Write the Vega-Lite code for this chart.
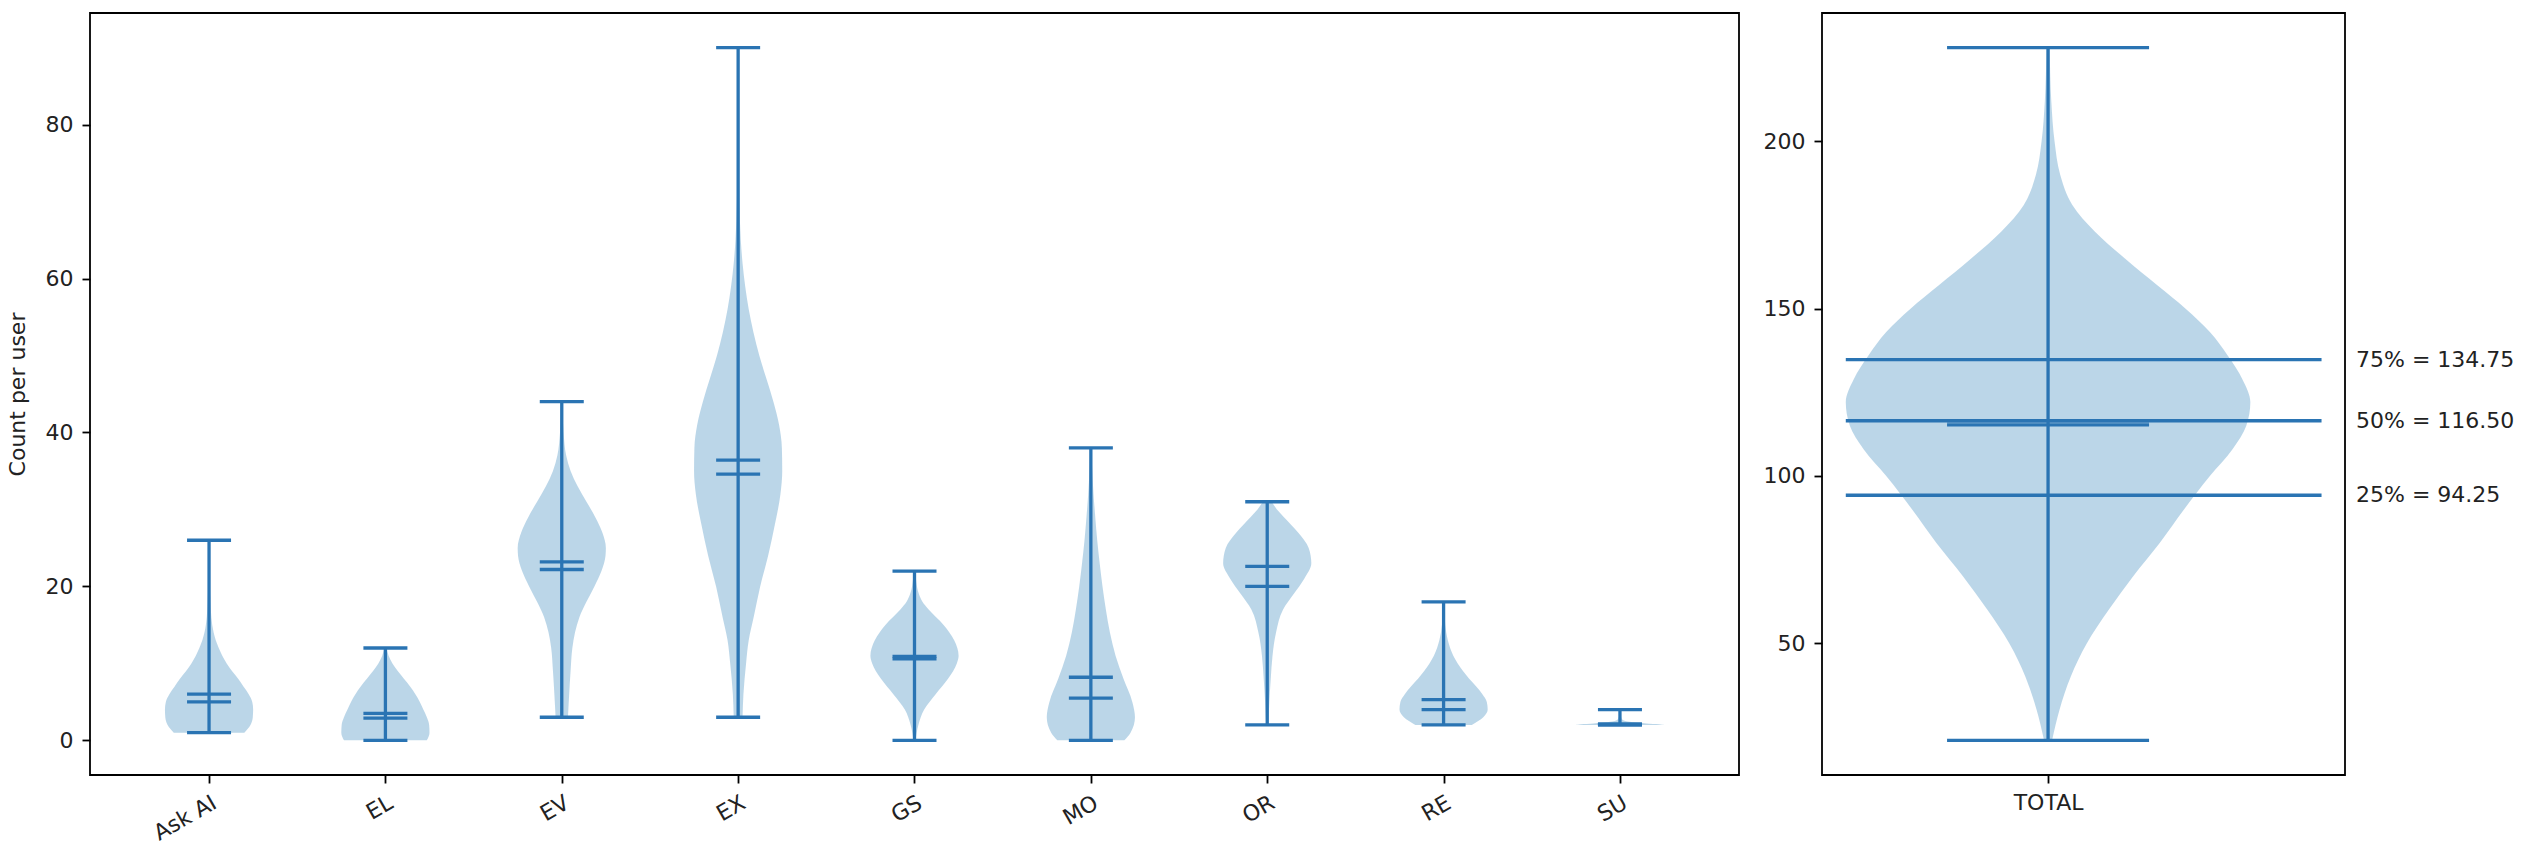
{
  "$schema": "https://vega.github.io/schema/vega-lite/v6.json",
  "background": "white",
  "padding": {"left": 5, "top": 12, "right": 5, "bottom": 5},
  "config": {
    "font": "DejaVu Sans",
    "view": {"stroke": "#000", "strokeWidth": 1.8},
    "axis": {"grid": false, "domain": false, "tickColor": "#000", "tickWidth": 1.8, "tickSize": 8, "labelPadding": 9, "labelFontSize": 22, "labelColor": "#222", "titleFontSize": 22, "titleFontWeight": "normal", "titleColor": "#222"},
    "concat": {"spacing": 22}
  },
  "datasets": {
    "violin": [
      {"c":"Ask AI","v":1,"lo":0.8,"hi":1.2},
      {"c":"Ask AI","v":2,"lo":0.765,"hi":1.235},
      {"c":"Ask AI","v":3,"lo":0.752,"hi":1.248},
      {"c":"Ask AI","v":4,"lo":0.75,"hi":1.25},
      {"c":"Ask AI","v":5,"lo":0.755,"hi":1.245},
      {"c":"Ask AI","v":6,"lo":0.775,"hi":1.225},
      {"c":"Ask AI","v":7,"lo":0.805,"hi":1.195},
      {"c":"Ask AI","v":8,"lo":0.835,"hi":1.165},
      {"c":"Ask AI","v":9,"lo":0.87,"hi":1.13},
      {"c":"Ask AI","v":10,"lo":0.9,"hi":1.1},
      {"c":"Ask AI","v":11,"lo":0.925,"hi":1.075},
      {"c":"Ask AI","v":12,"lo":0.945,"hi":1.055},
      {"c":"Ask AI","v":13,"lo":0.962,"hi":1.038},
      {"c":"Ask AI","v":14,"lo":0.974,"hi":1.026},
      {"c":"Ask AI","v":16,"lo":0.987,"hi":1.013},
      {"c":"Ask AI","v":18,"lo":0.992,"hi":1.008},
      {"c":"Ask AI","v":20,"lo":0.995,"hi":1.005},
      {"c":"Ask AI","v":23,"lo":0.997,"hi":1.003},
      {"c":"Ask AI","v":26,"lo":0.998,"hi":1.002},
      {"c":"EL","v":0,"lo":1.765,"hi":2.235},
      {"c":"EL","v":1,"lo":1.75,"hi":2.25},
      {"c":"EL","v":2,"lo":1.752,"hi":2.248},
      {"c":"EL","v":3,"lo":1.765,"hi":2.235},
      {"c":"EL","v":4,"lo":1.785,"hi":2.215},
      {"c":"EL","v":5,"lo":1.805,"hi":2.195},
      {"c":"EL","v":6,"lo":1.83,"hi":2.17},
      {"c":"EL","v":7,"lo":1.86,"hi":2.14},
      {"c":"EL","v":8,"lo":1.895,"hi":2.105},
      {"c":"EL","v":9,"lo":1.93,"hi":2.07},
      {"c":"EL","v":10,"lo":1.96,"hi":2.04},
      {"c":"EL","v":11,"lo":1.982,"hi":2.018},
      {"c":"EL","v":12,"lo":1.993,"hi":2.007},
      {"c":"EV","v":3,"lo":2.965,"hi":3.035},
      {"c":"EV","v":6,"lo":2.958,"hi":3.042},
      {"c":"EV","v":9,"lo":2.95,"hi":3.05},
      {"c":"EV","v":12,"lo":2.94,"hi":3.06},
      {"c":"EV","v":14,"lo":2.925,"hi":3.075},
      {"c":"EV","v":16,"lo":2.9,"hi":3.1},
      {"c":"EV","v":18,"lo":2.86,"hi":3.14},
      {"c":"EV","v":20,"lo":2.815,"hi":3.185},
      {"c":"EV","v":22,"lo":2.775,"hi":3.225},
      {"c":"EV","v":24,"lo":2.752,"hi":3.248},
      {"c":"EV","v":25,"lo":2.75,"hi":3.25},
      {"c":"EV","v":27,"lo":2.77,"hi":3.23},
      {"c":"EV","v":29,"lo":2.81,"hi":3.19},
      {"c":"EV","v":31,"lo":2.86,"hi":3.14},
      {"c":"EV","v":33,"lo":2.91,"hi":3.09},
      {"c":"EV","v":35,"lo":2.95,"hi":3.05},
      {"c":"EV","v":37,"lo":2.975,"hi":3.025},
      {"c":"EV","v":40,"lo":2.99,"hi":3.01},
      {"c":"EV","v":44,"lo":2.997,"hi":3.003},
      {"c":"EX","v":3,"lo":3.975,"hi":4.025},
      {"c":"EX","v":6,"lo":3.97,"hi":4.03},
      {"c":"EX","v":10,"lo":3.955,"hi":4.045},
      {"c":"EX","v":13,"lo":3.94,"hi":4.06},
      {"c":"EX","v":16,"lo":3.912,"hi":4.088},
      {"c":"EX","v":20,"lo":3.875,"hi":4.125},
      {"c":"EX","v":24,"lo":3.83,"hi":4.17},
      {"c":"EX","v":28,"lo":3.792,"hi":4.208},
      {"c":"EX","v":32,"lo":3.76,"hi":4.24},
      {"c":"EX","v":35,"lo":3.75,"hi":4.25},
      {"c":"EX","v":38,"lo":3.752,"hi":4.248},
      {"c":"EX","v":41,"lo":3.768,"hi":4.232},
      {"c":"EX","v":44,"lo":3.8,"hi":4.2},
      {"c":"EX","v":47,"lo":3.84,"hi":4.16},
      {"c":"EX","v":50,"lo":3.88,"hi":4.12},
      {"c":"EX","v":53,"lo":3.913,"hi":4.087},
      {"c":"EX","v":56,"lo":3.94,"hi":4.06},
      {"c":"EX","v":59,"lo":3.96,"hi":4.04},
      {"c":"EX","v":62,"lo":3.975,"hi":4.025},
      {"c":"EX","v":65,"lo":3.985,"hi":4.015},
      {"c":"EX","v":70,"lo":3.993,"hi":4.007},
      {"c":"EX","v":78,"lo":3.997,"hi":4.003},
      {"c":"EX","v":90,"lo":3.999,"hi":4.001},
      {"c":"GS","v":0,"lo":4.994,"hi":5.006},
      {"c":"GS","v":2,"lo":4.978,"hi":5.022},
      {"c":"GS","v":4,"lo":4.945,"hi":5.055},
      {"c":"GS","v":6,"lo":4.88,"hi":5.12},
      {"c":"GS","v":8,"lo":4.81,"hi":5.19},
      {"c":"GS","v":10,"lo":4.76,"hi":5.24},
      {"c":"GS","v":11,"lo":4.75,"hi":5.25},
      {"c":"GS","v":13,"lo":4.775,"hi":5.225},
      {"c":"GS","v":15,"lo":4.835,"hi":5.165},
      {"c":"GS","v":17,"lo":4.92,"hi":5.08},
      {"c":"GS","v":18,"lo":4.955,"hi":5.045},
      {"c":"GS","v":19,"lo":4.975,"hi":5.025},
      {"c":"GS","v":21,"lo":4.992,"hi":5.008},
      {"c":"GS","v":22,"lo":4.996,"hi":5.004},
      {"c":"MO","v":0,"lo":5.81,"hi":6.19},
      {"c":"MO","v":1,"lo":5.775,"hi":6.225},
      {"c":"MO","v":3,"lo":5.75,"hi":6.25},
      {"c":"MO","v":5,"lo":5.765,"hi":6.235},
      {"c":"MO","v":8,"lo":5.815,"hi":6.185},
      {"c":"MO","v":11,"lo":5.86,"hi":6.14},
      {"c":"MO","v":14,"lo":5.892,"hi":6.108},
      {"c":"MO","v":17,"lo":5.915,"hi":6.085},
      {"c":"MO","v":20,"lo":5.934,"hi":6.066},
      {"c":"MO","v":23,"lo":5.95,"hi":6.05},
      {"c":"MO","v":26,"lo":5.964,"hi":6.036},
      {"c":"MO","v":29,"lo":5.975,"hi":6.025},
      {"c":"MO","v":32,"lo":5.985,"hi":6.015},
      {"c":"MO","v":35,"lo":5.992,"hi":6.008},
      {"c":"MO","v":38,"lo":5.997,"hi":6.003},
      {"c":"OR","v":2,"lo":6.994,"hi":7.006},
      {"c":"OR","v":5,"lo":6.988,"hi":7.012},
      {"c":"OR","v":8,"lo":6.98,"hi":7.02},
      {"c":"OR","v":11,"lo":6.97,"hi":7.03},
      {"c":"OR","v":14,"lo":6.95,"hi":7.05},
      {"c":"OR","v":17,"lo":6.91,"hi":7.09},
      {"c":"OR","v":19,"lo":6.85,"hi":7.15},
      {"c":"OR","v":21,"lo":6.79,"hi":7.21},
      {"c":"OR","v":23,"lo":6.75,"hi":7.25},
      {"c":"OR","v":25,"lo":6.765,"hi":7.235},
      {"c":"OR","v":27,"lo":6.825,"hi":7.175},
      {"c":"OR","v":29,"lo":6.905,"hi":7.095},
      {"c":"OR","v":30,"lo":6.945,"hi":7.055},
      {"c":"OR","v":31,"lo":6.975,"hi":7.025},
      {"c":"RE","v":2,"lo":7.84,"hi":8.16},
      {"c":"RE","v":3,"lo":7.775,"hi":8.225},
      {"c":"RE","v":4,"lo":7.75,"hi":8.25},
      {"c":"RE","v":5,"lo":7.755,"hi":8.245},
      {"c":"RE","v":6,"lo":7.78,"hi":8.22},
      {"c":"RE","v":7,"lo":7.815,"hi":8.185},
      {"c":"RE","v":8,"lo":7.855,"hi":8.145},
      {"c":"RE","v":9,"lo":7.89,"hi":8.11},
      {"c":"RE","v":10,"lo":7.92,"hi":8.08},
      {"c":"RE","v":11,"lo":7.945,"hi":8.055},
      {"c":"RE","v":12,"lo":7.963,"hi":8.037},
      {"c":"RE","v":13,"lo":7.976,"hi":8.024},
      {"c":"RE","v":14,"lo":7.985,"hi":8.015},
      {"c":"RE","v":16,"lo":7.994,"hi":8.006},
      {"c":"RE","v":18,"lo":7.998,"hi":8.002},
      {"c":"SU","v":2,"lo":8.75,"hi":9.25},
      {"c":"SU","v":2.1,"lo":8.78,"hi":9.22},
      {"c":"SU","v":2.2,"lo":8.85,"hi":9.15},
      {"c":"SU","v":2.35,"lo":8.93,"hi":9.07},
      {"c":"SU","v":2.5,"lo":8.97,"hi":9.03},
      {"c":"SU","v":2.8,"lo":8.99,"hi":9.01},
      {"c":"SU","v":3.2,"lo":8.995,"hi":9.005},
      {"c":"SU","v":4,"lo":8.998,"hi":9.002}
    ],
    "stats": [
      {"c":"Ask AI","pos":1,"min":1,"max":26,"mean":6.0,"median":5.0},
      {"c":"EL","pos":2,"min":0,"max":12,"mean":3.5,"median":2.9},
      {"c":"EV","pos":3,"min":3,"max":44,"mean":23.2,"median":22.2},
      {"c":"EX","pos":4,"min":3,"max":90,"mean":36.4,"median":34.6},
      {"c":"GS","pos":5,"min":0,"max":22,"mean":10.9,"median":10.6},
      {"c":"MO","pos":6,"min":0,"max":38,"mean":8.2,"median":5.5},
      {"c":"OR","pos":7,"min":2,"max":31,"mean":22.6,"median":20.0},
      {"c":"RE","pos":8,"min":2,"max":18,"mean":5.3,"median":4.0},
      {"c":"SU","pos":9,"min":2,"max":4,"mean":2.15,"median":2.0}
    ],
    "total_violin": [
      {"c":"TOTAL","v":21,"lo":0.995,"hi":1.005},
      {"c":"TOTAL","v":30,"lo":0.986,"hi":1.014},
      {"c":"TOTAL","v":40,"lo":0.972,"hi":1.028},
      {"c":"TOTAL","v":50,"lo":0.952,"hi":1.048},
      {"c":"TOTAL","v":60,"lo":0.925,"hi":1.075},
      {"c":"TOTAL","v":70,"lo":0.895,"hi":1.105},
      {"c":"TOTAL","v":80,"lo":0.862,"hi":1.138},
      {"c":"TOTAL","v":90,"lo":0.832,"hi":1.168},
      {"c":"TOTAL","v":100,"lo":0.8,"hi":1.2},
      {"c":"TOTAL","v":108,"lo":0.772,"hi":1.228},
      {"c":"TOTAL","v":115,"lo":0.755,"hi":1.245},
      {"c":"TOTAL","v":122,"lo":0.75,"hi":1.25},
      {"c":"TOTAL","v":129,"lo":0.76,"hi":1.24},
      {"c":"TOTAL","v":136,"lo":0.778,"hi":1.222},
      {"c":"TOTAL","v":143,"lo":0.8,"hi":1.2},
      {"c":"TOTAL","v":150,"lo":0.83,"hi":1.17},
      {"c":"TOTAL","v":157,"lo":0.865,"hi":1.135},
      {"c":"TOTAL","v":165,"lo":0.905,"hi":1.095},
      {"c":"TOTAL","v":173,"lo":0.942,"hi":1.058},
      {"c":"TOTAL","v":181,"lo":0.97,"hi":1.03},
      {"c":"TOTAL","v":190,"lo":0.985,"hi":1.015},
      {"c":"TOTAL","v":200,"lo":0.992,"hi":1.008},
      {"c":"TOTAL","v":212,"lo":0.996,"hi":1.004},
      {"c":"TOTAL","v":228,"lo":0.998,"hi":1.002}
    ],
    "total_stats": [
      {"c":"TOTAL","pos":1,"min":21,"max":228,"mean":115.3,"median":116.5}
    ],
    "quant": [
      {"q":"75%","value":134.75,"label":"75% = 134.75"},
      {"q":"50%","value":116.5,"label":"50% = 116.50"},
      {"q":"25%","value":94.25,"label":"25% = 94.25"}
    ]
  },
  "hconcat": [
    {
      "width": 1649,
      "height": 762,
      "layer": [
        {
          "data": {"name": "violin"},
          "mark": {"type": "area", "orient": "horizontal", "interpolate": "monotone", "color": "#1f77b4", "opacity": 0.3},
          "encoding": {
            "y": {"field": "v", "type": "quantitative", "scale": {"domain": [-4.5, 94.5], "nice": false, "zero": false},
                  "axis": {"values": [0, 20, 40, 60, 80], "title": "Count per user", "titlePadding": 16}},
            "x": {"field": "lo", "type": "quantitative", "stack": null, "scale": {"domain": [0.325, 9.675], "nice": false, "zero": false},
                  "axis": {"values": [1,2,3,4,5,6,7,8,9], "labelExpr": "['Ask AI','EL','EV','EX','GS','MO','OR','RE','SU'][datum.value-1]", "labelAngle": -30, "labelAlign": "right", "labelBaseline": "top", "title": null}},
            "x2": {"field": "hi"},
            "detail": {"field": "c"}
          }
        },
        {
          "data": {"name": "stats"},
          "mark": {"type": "rule", "color": "#2a74b3", "strokeWidth": 3.3},
          "encoding": {
            "x": {"field": "pos", "type": "quantitative"},
            "y": {"field": "min", "type": "quantitative"},
            "y2": {"field": "max"}
          }
        },
        {
          "data": {"name": "stats"},
          "transform": [{"fold": ["min", "max", "mean", "median"], "as": ["stat", "val"]}],
          "mark": {"type": "tick", "orient": "horizontal", "color": "#2a74b3", "size": 44, "thickness": 3.3, "opacity": 1},
          "encoding": {
            "x": {"field": "pos", "type": "quantitative"},
            "y": {"field": "val", "type": "quantitative"}
          }
        }
      ]
    },
    {
      "width": 523,
      "height": 762,
      "layer": [
        {
          "data": {"name": "total_violin"},
          "mark": {"type": "area", "orient": "horizontal", "interpolate": "monotone", "color": "#1f77b4", "opacity": 0.3},
          "encoding": {
            "y": {"field": "v", "type": "quantitative", "scale": {"domain": [10.65, 238.35], "nice": false, "zero": false},
                  "axis": {"values": [50, 100, 150, 200], "title": null}},
            "x": {"field": "lo", "type": "quantitative", "stack": null, "scale": {"domain": [0.7206, 1.367], "nice": false, "zero": false},
                  "axis": {"values": [1], "labelExpr": "'TOTAL'", "labelAngle": 0, "title": null}},
            "x2": {"field": "hi"},
            "detail": {"field": "c"}
          }
        },
        {
          "data": {"name": "total_stats"},
          "mark": {"type": "rule", "color": "#2a74b3", "strokeWidth": 3.3},
          "encoding": {
            "x": {"field": "pos", "type": "quantitative"},
            "y": {"field": "min", "type": "quantitative"},
            "y2": {"field": "max"}
          }
        },
        {
          "data": {"name": "total_stats"},
          "transform": [{"fold": ["min", "max", "mean", "median"], "as": ["stat", "val"]}],
          "mark": {"type": "tick", "orient": "horizontal", "color": "#2a74b3", "size": 202, "thickness": 3.3, "opacity": 1},
          "encoding": {
            "x": {"field": "pos", "type": "quantitative"},
            "y": {"field": "val", "type": "quantitative"}
          }
        },
        {
          "data": {"name": "quant"},
          "mark": {"type": "rule", "color": "#2a74b3", "strokeWidth": 3.3},
          "encoding": {
            "x": {"datum": 0.75},
            "x2": {"datum": 1.338},
            "y": {"field": "value", "type": "quantitative"}
          }
        },
        {
          "data": {"name": "quant"},
          "mark": {"type": "text", "align": "left", "baseline": "middle", "fontSize": 22, "color": "#222", "dx": 11},
          "encoding": {
            "x": {"datum": 1.367},
            "y": {"field": "value", "type": "quantitative"},
            "text": {"field": "label"}
          }
        }
      ]
    }
  ]
}
